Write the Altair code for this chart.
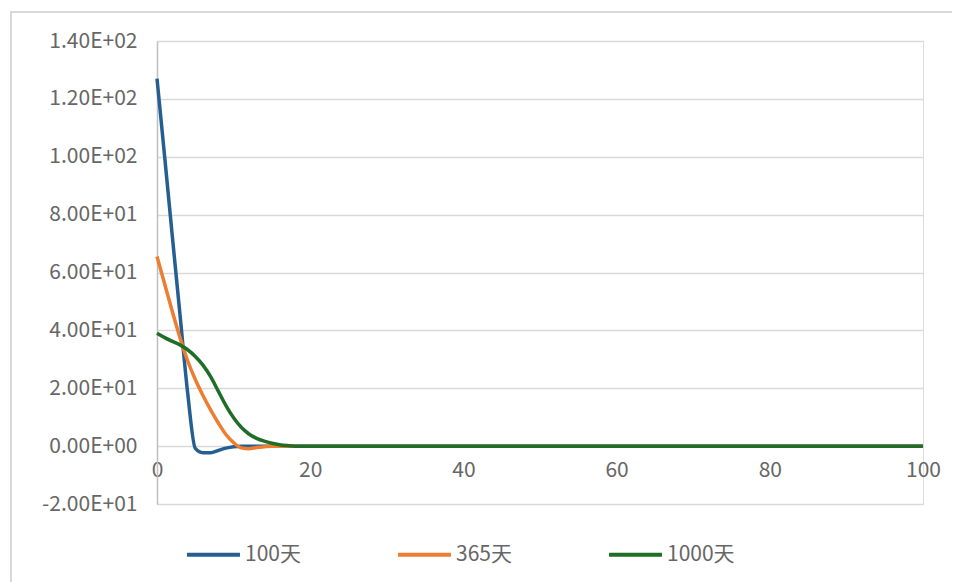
import json
import altair as alt
import pandas as pd

# ---- data ----
x_vals = [0, 1, 2, 3, 4, 5, 6, 7, 8, 9, 10, 11, 12, 13, 14, 15, 16, 17, 18, 19, 20,
          30, 40, 50, 60, 70, 80, 90, 100]
s100 = [127, 100, 72.5, 45.5, 18.5, -0.8, -2.3, -2.3, -1.5, -0.7, -0.2, 0, 0, 0, 0, 0, 0, 0, 0, 0, 0,
        0, 0, 0, 0, 0, 0, 0, 0]
s365 = [65.5, 56, 46.5, 37.5, 29.5, 23, 17.5, 12.5, 8, 4, 1.2, -0.6, -0.9, -0.5, -0.2, 0, 0, 0, 0, 0, 0,
        0, 0, 0, 0, 0, 0, 0, 0]
s1000 = [39, 37.5, 36.2, 35, 33.3, 31, 28, 24, 19, 14, 9.8, 6.5, 4.2, 2.7, 1.7, 1, 0.5, 0.2, 0, 0, 0,
         0, 0, 0, 0, 0, 0, 0, 0]
series_names = ["100天", "365天", "1000天"]
series_colors = ["#255E91", "#ED7D31", "#1F6E27"]

y_ticks = [-20, 0, 20, 40, 60, 80, 100, 120, 140]
y_tick_labels = ["-2.00E+01", "0.00E+00", "2.00E+01", "4.00E+01", "6.00E+01",
                 "8.00E+01", "1.00E+02", "1.20E+02", "1.40E+02"]
x_ticks = [0, 20, 40, 60, 80, 100]

rows = []
for name, vals in zip(series_names, [s100, s365, s1000]):
    for x, v in zip(x_vals, vals):
        rows.append({"x": x, "y": v, "series": name, "order": series_names.index(name)})
df = pd.DataFrame(rows)

W, H = 766, 463
FONT = "Noto Sans CJK SC"
GRAY_TXT = "#666666"

label_expr = f"{json.dumps(y_tick_labels)}[indexof({json.dumps(y_ticks)}, datum.value)]"

lines = alt.Chart(df).mark_line(strokeWidth=3.5, interpolate="monotone").encode(
    x=alt.X("x:Q", scale=alt.Scale(domain=[0, 100], nice=False),
            axis=alt.Axis(values=x_ticks, title=None, grid=False, domain=False, ticks=False,
                          offset=-(H * 20 / 160), labelPadding=13, labelFontSize=21,
                          labelColor=GRAY_TXT, labelFont=FONT, labelFlush=False)),
    y=alt.Y("y:Q", scale=alt.Scale(domain=[-20, 140], nice=False),
            axis=alt.Axis(values=y_ticks, title=None, labelExpr=label_expr, grid=True,
                          gridColor="#d9d9d9", gridWidth=1.5, domain=True,
                          domainColor="#bfbfbf", domainWidth=1.5, ticks=False,
                          labelPadding=20, labelFontSize=21, labelColor=GRAY_TXT,
                          labelFont=FONT)),
    color=alt.Color("series:N", sort=series_names,
                    scale=alt.Scale(domain=series_names, range=series_colors),
                    legend=alt.Legend(title=None, orient="none", direction="horizontal",
                                      legendX=28, legendY=485, symbolType="stroke",
                                      symbolSize=2800, symbolStrokeWidth=4,
                                      labelFontSize=21, labelColor=GRAY_TXT, labelFont=FONT,
                                      labelOffset=3, columnPadding=89, padding=0)),
    order=alt.Order("order:Q"),
    detail="series:N",
)

border = alt.Chart(pd.DataFrame({"a": [0]})).mark_rect(
    fill="transparent", stroke="#d9d9d9", strokeWidth=2
).encode(x=alt.value(-146), x2=alt.value(830), y=alt.value(-29), y2=alt.value(560))

chart = alt.layer(border, lines).properties(
    width=W, height=H,
    autosize=alt.AutoSizeParams(type="none"),
    padding={"left": 149, "top": 33, "right": 29, "bottom": 78},
).configure_view(stroke=None).configure(background="white")

chart.save("out.html", embed_options={"renderer": "svg", "actions": False})
